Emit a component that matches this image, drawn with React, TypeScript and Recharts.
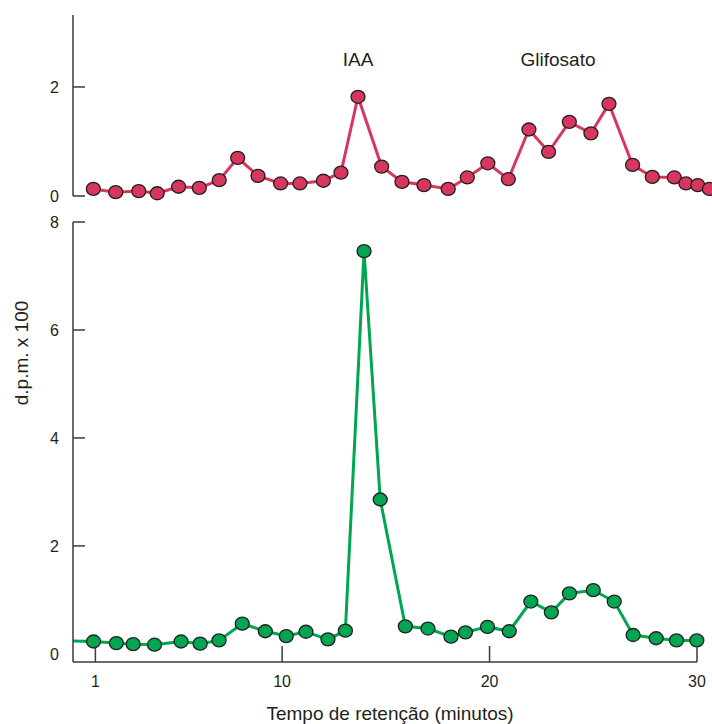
import React from 'react';
import { LineChart, Line, XAxis, YAxis } from 'recharts';

// retention time (min) and counts (d.p.m. x 100)
const topTime = [0.9, 1.98, 3.09, 3.98, 5.01, 6.01, 6.97, 7.86, 8.84, 9.93, 10.86, 11.99, 12.84, 13.66, 14.8, 15.78,
  16.84, 18.01, 18.93, 19.92, 20.91, 21.9, 22.85, 23.85, 24.89, 25.76, 26.9, 27.85, 28.91, 29.47, 30.04, 30.6];
const topDpm = [0.13, 0.07, 0.09, 0.05, 0.17, 0.15, 0.29, 0.7, 0.37, 0.23, 0.23, 0.28, 0.43, 1.82, 0.54, 0.26,
  0.2, 0.13, 0.34, 0.6, 0.31, 1.22, 0.81, 1.36, 1.15, 1.69, 0.57, 0.35, 0.34, 0.23, 0.2, 0.13];

const bottomTime = [-0.08, 0.91, 2.01, 2.82, 3.85, 5.13, 6.05, 6.96, 8.08, 9.19, 10.2, 11.15, 12.21, 13.05, 13.95, 14.73,
  15.94, 17.03, 18.14, 18.84, 19.9, 20.95, 21.99, 22.98, 23.85, 25.0, 26.01, 26.92, 28.03, 29.01, 29.99];
const bottomDpm = [0.24, 0.23, 0.2, 0.18, 0.17, 0.23, 0.19, 0.25, 0.56, 0.42, 0.33, 0.41, 0.27, 0.43, 7.46, 2.86,
  0.51, 0.47, 0.32, 0.4, 0.5, 0.42, 0.97, 0.77, 1.12, 1.18, 0.97, 0.35, 0.29, 0.25, 0.25];

const xTicks = [1, 10, 20, 30];
const topTicks = [0, 2];
const bottomTicks = [0, 2, 4, 6, 8];

const topData = topTime.map((t, i) => ({ t, v: topDpm[i] }));
const bottomData = bottomTime.map((t, i) => ({ t, v: bottomDpm[i] }));

const FONT = '"Liberation Sans", Arial, sans-serif';
const INK = '#231F20';
const AXIS = '#3a3a3a';

const YTick = (props: any) => {
  const { x, y, payload, noZeroLine } = props;
  const showLine = !(noZeroLine && payload.value === 0);
  return (
    <g>
      {showLine && <line x1={x} x2={x + 12} y1={y} y2={y} stroke={AXIS} strokeWidth={1.5} />}
      <text x={x - 14} y={y} dy={6} textAnchor="end" fontSize={16} fill={INK} fontFamily={FONT}>
        {payload.value}
      </text>
    </g>
  );
};

const XTick = (props: any) => {
  const { x, y, payload } = props;
  return (
    <g>
      <line x1={x} x2={x} y1={y} y2={y - 16} stroke={AXIS} strokeWidth={1.5} />
      <text x={x} y={y + 25} textAnchor="middle" fontSize={16} fill={INK} fontFamily={FONT}>
        {payload.value}
      </text>
    </g>
  );
};

const makeDot = (fill: string, skipFirst: boolean) => (p: any) => {
  if (skipFirst && p.index === 0) return <g key={`d${p.index}`} />;
  return (
    <ellipse key={`d${p.index}`} cx={p.cx} cy={p.cy} rx={7} ry={6.5} fill={fill} stroke={INK} strokeWidth={1.3} />
  );
};

export default function App() {
  return (
    <div style={{ position: 'fixed', left: 0, top: 0, width: 712, height: 724, overflow: 'hidden', background: '#fff' }}>
      <div style={{ position: 'absolute', left: 0, top: 0 }}>
        <LineChart width={720} height={220} data={topData} margin={{ top: 15, right: 6.5, bottom: 24, left: 13 }}>
          <XAxis dataKey="t" type="number" domain={[-0.08, 30.8]} hide />
          <YAxis
            type="number"
            domain={[0, 3.32]}
            ticks={topTicks}
            width={60}
            tickSize={0}
            tickMargin={0}
            tickLine={false}
            axisLine={{ stroke: AXIS, strokeWidth: 1.5 }}
            tick={<YTick />}
          />
          <Line
            dataKey="v"
            stroke="#D7365E"
            strokeWidth={3}
            dot={makeDot('#D7365E', false)}
            activeDot={false}
            isAnimationActive={false}
          />
        </LineChart>
      </div>
      <div style={{ position: 'absolute', left: 0, top: 200 }}>
        <LineChart width={712} height={524} data={bottomData} margin={{ top: 22, right: 15, bottom: 22, left: 13 }}>
          <XAxis
            dataKey="t"
            type="number"
            domain={[-0.08, 30]}
            ticks={xTicks}
            height={40}
            tickSize={0}
            tickMargin={0}
            tickLine={false}
            axisLine={{ stroke: AXIS, strokeWidth: 1.5 }}
            tick={<XTick />}
          />
          <YAxis
            type="number"
            domain={[-0.15, 8]}
            ticks={bottomTicks}
            width={60}
            tickSize={0}
            tickMargin={0}
            tickLine={false}
            axisLine={{ stroke: AXIS, strokeWidth: 1.5 }}
            tick={<YTick noZeroLine />}
          />
          <Line
            dataKey="v"
            stroke="#00A651"
            strokeWidth={3}
            dot={makeDot('#00A651', true)}
            activeDot={false}
            isAnimationActive={false}
          />
        </LineChart>
      </div>
      <svg width={712} height={724} style={{ position: 'absolute', left: 0, top: 0, pointerEvents: 'none' }}>
        <text x={358} y={66} textAnchor="middle" fontSize={19} fill={INK} fontFamily={FONT}>IAA</text>
        <text x={558} y={66} textAnchor="middle" fontSize={19} fill={INK} fontFamily={FONT}>Glifosato</text>
        <text x={390} y={720} textAnchor="middle" fontSize={19} fill={INK} fontFamily={FONT}>
          Tempo de retenção (minutos)
        </text>
        <text
          transform="translate(28,353) rotate(-90)"
          textAnchor="middle"
          fontSize={19}
          fill={INK}
          fontFamily={FONT}
        >
          d.p.m. x 100
        </text>
      </svg>
    </div>
  );
}
